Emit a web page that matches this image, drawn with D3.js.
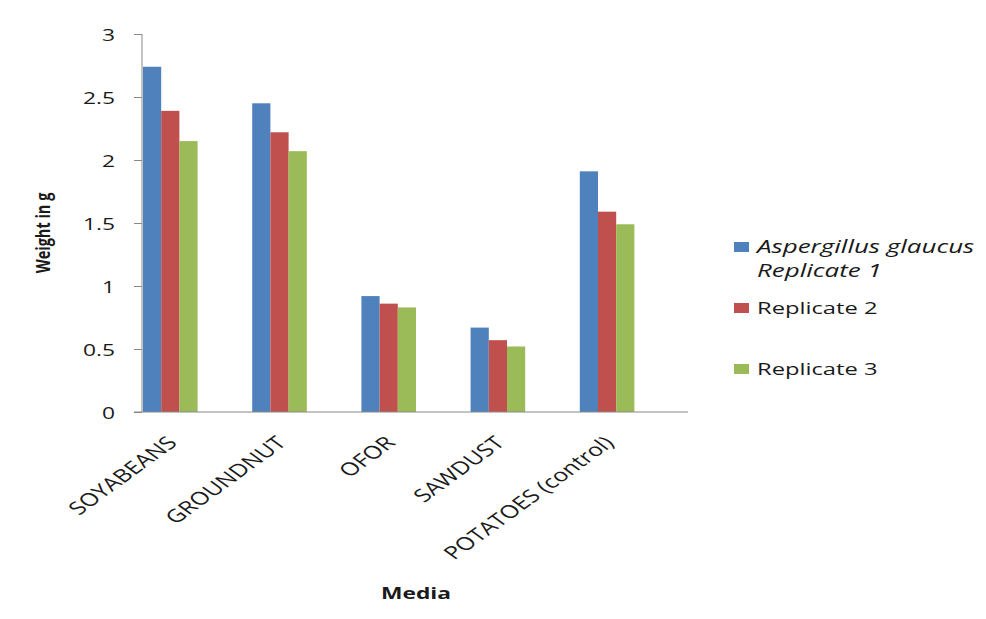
<!DOCTYPE html>
<html>
<head>
<meta charset="utf-8">
<script src="https://cdn.jsdelivr.net/npm/d3@7"></script>
<style>
  body { margin: 0; background: #fff; }
  svg { display: block; font-family: "Open Sans", "Noto Sans", sans-serif; }
</style>
</head>
<body>
<svg id="chart" width="986" height="619"></svg>
<script>
const categories = ["SOYABEANS", "GROUNDNUT", "OFOR", "SAWDUST", "POTATOES (control)"];
const seriesNames = ["Replicate 1", "Replicate 2", "Replicate 3"];
const replicate1 = [2.74, 2.45, 0.92, 0.67, 1.91];
const replicate2 = [2.39, 2.22, 0.86, 0.57, 1.59];
const replicate3 = [2.15, 2.07, 0.83, 0.52, 1.49];
const yTicks = [0, 0.5, 1, 1.5, 2, 2.5, 3];
const colors = ["#4F81BD", "#C0504D", "#9BBB59"];

const seriesValues = [replicate1, replicate2, replicate3];
const SX = 1.38; // horizontal stretch of the reference text

const svg = d3.select("#chart");
const mLeft = 142, mRight = 688, mTop = 34, mBottom = 412;

const y = d3.scaleLinear().domain([0, 3]).range([mBottom, mTop]);
const x0 = d3.scaleBand().domain(categories).range([mLeft + 1, mRight + 1])
  .paddingInner(0.5).paddingOuter(0.25).align(0);
const x1 = d3.scaleBand().domain(seriesNames).range([0, x0.bandwidth()]).padding(0);

// bars
const groups = svg.append("g").selectAll("g").data(categories).join("g")
  .attr("transform", d => `translate(${x0(d)},0)`);
groups.selectAll("rect")
  .data((c, ci) => seriesNames.map((s, si) => ({ s, si, v: seriesValues[si][ci] })))
  .join("rect")
  .attr("x", d => x1(d.s))
  .attr("width", x1.bandwidth())
  .attr("y", d => y(d.v))
  .attr("height", d => y(0) - y(d.v))
  .attr("fill", d => colors[d.si]);

// y axis
const yAxis = d3.axisLeft(y).tickValues(yTicks).tickSize(8).tickPadding(0)
  .tickFormat(d3.format(""));
const ya = svg.append("g").attr("transform", `translate(${mLeft},0)`).call(yAxis);
ya.select(".domain").attr("stroke", "#888").attr("d", `M0,${mTop}V${mBottom}`);
ya.selectAll(".tick line").attr("stroke", "#888");
ya.selectAll(".tick text")
  .attr("x", null).attr("dy", null)
  .attr("text-anchor", "end")
  .attr("font-size", 16.5)
  .attr("font-family", "Open Sans")
  .attr("fill", "#1a1a1a")
  .attr("transform", "translate(-27,6) scale(" + SX + ",1)");

// x axis
const xAxis = d3.axisBottom(x0).tickSize(0).tickFormat("");
const xa = svg.append("g").attr("transform", `translate(0,${mBottom})`).call(xAxis);
xa.select(".domain").attr("stroke", "#888").attr("d", `M${mLeft - 8},0H${mRight}`);

// category labels
svg.append("g").selectAll("text").data(categories).join("text")
  .attr("text-anchor", "end")
  .attr("font-size", 18)
  .attr("fill", "#1a1a1a")
  .attr("transform", d => `translate(${x0(d) + x0.bandwidth() / 2 + 8},${mBottom + 32}) scale(${SX},1) rotate(-45)`)
  .text(d => d);

// axis titles
svg.append("text")
  .attr("text-anchor", "middle")
  .attr("font-weight", "bold")
  .attr("font-size", 14.5)
  .attr("fill", "#1a1a1a")
  .attr("transform", `translate(50,233) scale(${SX},1) rotate(-90)`)
  .text("Weight in g");

svg.append("text")
  .attr("text-anchor", "middle")
  .attr("font-weight", "bold")
  .attr("font-size", 16.5)
  .attr("fill", "#1a1a1a")
  .attr("transform", `translate(416,599) scale(${SX},1)`)
  .text("Media");

// legend
const legendRows = [
  { y: 247, lines: [{ t: "Aspergillus glaucus", it: true }, { t: "Replicate 1", it: true }] },
  { y: 308, lines: [{ t: "Replicate 2", it: false }] },
  { y: 369, lines: [{ t: "Replicate 3", it: false }] }
];
const lg = svg.append("g").selectAll("g").data(legendRows).join("g");
lg.append("rect")
  .attr("x", 734).attr("y", d => d.y - 5)
  .attr("width", 15).attr("height", 10)
  .attr("fill", (d, i) => colors[i]);
lg.each(function(d) {
  const g = d3.select(this);
  d.lines.forEach((ln, k) => {
    g.append("text")
      .attr("font-size", ln.it ? 18.8 : 17.2)
      .attr("font-style", ln.it ? "italic" : "normal")
      .attr("fill", "#1a1a1a")
      .attr("transform", `translate(757,${d.y + 6 + k * 24}) scale(${SX},1)`)
      .text(ln.t);
  });
});
</script>
</body>
</html>
